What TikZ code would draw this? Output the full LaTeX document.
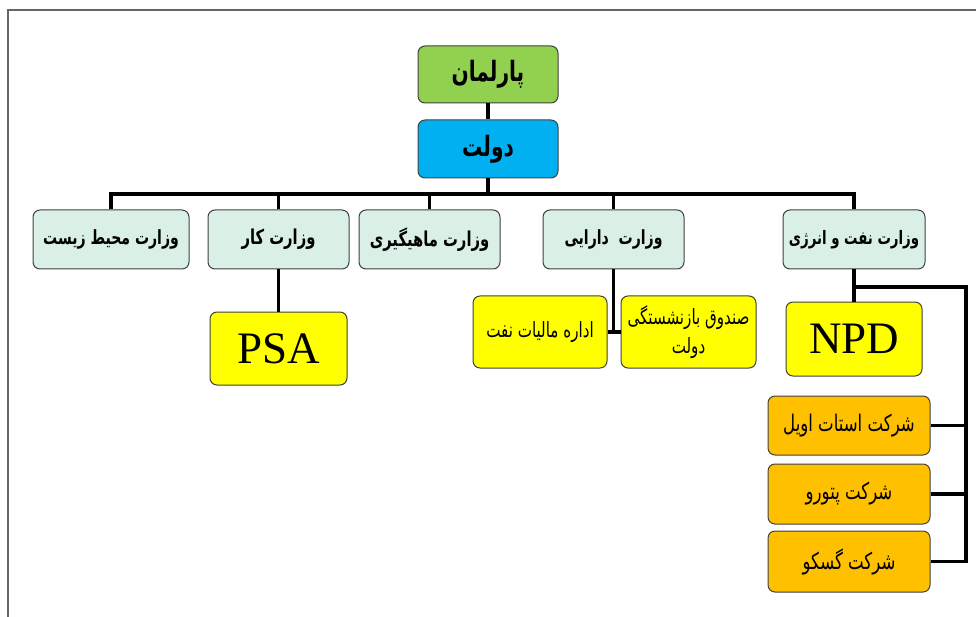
\documentclass[tikz,border=0pt]{standalone}
\usepackage{fontspec}
\setmainfont{Liberation Serif}
\newfontfamily\arabicfont[Script=Arabic, FakeStretch=0.72]{DejaVu Sans}
\TeXXeTstate=1
\definecolor{mint}{HTML}{DAF0E7}
\definecolor{pgreen}{HTML}{92D050}
\definecolor{pblue}{HTML}{00B0F0}
\definecolor{pyellow}{HTML}{FFFF00}
\definecolor{porange}{HTML}{FFC000}
\tikzset{
  box/.style={rounded corners=7pt, draw=black!75, line width=1pt, inner sep=0pt, align=center},
  topbox/.style={box, minimum width=140pt, minimum height=57pt, font=\arabicfont\bfseries\fontsize{28}{30}\selectfont},
  minbox/.style={box, fill=mint, minimum width=141pt, minimum height=59pt, font=\arabicfont\bfseries\fontsize{20.5}{23}\selectfont},
  latbox/.style={box, fill=pyellow, minimum width=137pt, minimum height=73pt, font=\fontsize{45}{48}\selectfont},
  subbox/.style={box, fill=pyellow, minimum width=134pt, minimum height=72pt, font=\arabicfont\fontsize{21}{29}\selectfont},
  combox/.style={box, fill=porange, minimum width=162pt, minimum height=60pt, font=\arabicfont\fontsize{23}{26}\selectfont},
  conn/.style={draw=black, line width=3.2pt},
}
\begin{document}
\begin{tikzpicture}[x=1pt, y=-1pt]
\useasboundingbox (0,0) rectangle (976,617);
\draw[black!60, line width=1.2pt] (8,617) -- (8,10) -- (976,10);
% nodes
\node[topbox, fill=pgreen] (parl) at (488,74.5) {\beginR پارلمان\endR};
\node[topbox, fill=pblue, minimum height=58pt] (dolat) at (488,149) {\beginR دولت\endR};
\node[minbox, minimum width=156pt, font=\arabicfont\bfseries\fontsize{19.5}{23}\selectfont] (zist) at (111,239.5) {\beginR وزارت محیط زیست\endR};
\node[minbox] (kar) at (278.5,239.5) {\beginR وزارت کار\endR};
\node[minbox] (mahi) at (429.5,239.5) {\beginR وزارت ماهیگیری\endR};
\node[minbox, font=\arabicfont\bfseries\fontsize{19.5}{23}\selectfont] (darai) at (613.5,239.5) {\beginR وزارت\ \ دارایی\endR};
\node[minbox, minimum width=142pt, font=\arabicfont\bfseries\fontsize{18.5}{23}\selectfont] (naft) at (854,239.5) {\beginR وزارت نفت و انرژی\endR};
\node[latbox] (psa) at (278.5,348.5) {PSA};
\node[subbox] (maliat) at (540,332) {\beginR اداره مالیات نفت\endR};
\node[subbox, minimum width=135pt] (sandogh) at (688.5,332) {\beginR صندوق بازنشستگی\endR\\\beginR دولت\endR};
\node[latbox, minimum width=136pt, minimum height=74pt] (npd) at (854,339) {NPD};
\node[combox, minimum height=59pt] (statoil) at (849,425.5) {\beginR شرکت استات اویل\endR};
\node[combox] (petoro) at (849,494) {\beginR شرکت پتورو\endR};
\node[combox, minimum height=61pt] (gassco) at (849,561.5) {\beginR شرکت گسکو\endR};
% coordinates
\coordinate (busy) at (0,194);
\coordinate (br) at (854,287);
\coordinate (rail) at (966,287);
% connectors
\draw[conn] (parl.south) -- (dolat.north);
\draw[conn] (dolat.south) -- (dolat.south |- busy);
\draw[conn] (zist.north) |- (naft.north |- busy) -- (naft.north);
\draw[conn] (kar.north) -- (kar.north |- busy);
\draw[conn] (mahi.north) -- (mahi.north |- busy);
\draw[conn] (darai.north) -- (darai.north |- busy);
\draw[conn] (kar.south) -- (psa.north);
\draw[conn] (darai.south) -- (darai.south |- maliat.east);
\draw[conn] (maliat.east) -- (sandogh.west);
\draw[conn] (naft.south) -- (npd.north);
\draw[conn] (br) -- (rail) -- (rail |- gassco.east) -- (gassco.east);
\draw[conn] (statoil.east) -- (statoil.east -| rail);
\draw[conn] (petoro.east) -- (petoro.east -| rail);
\end{tikzpicture}
\end{document}
